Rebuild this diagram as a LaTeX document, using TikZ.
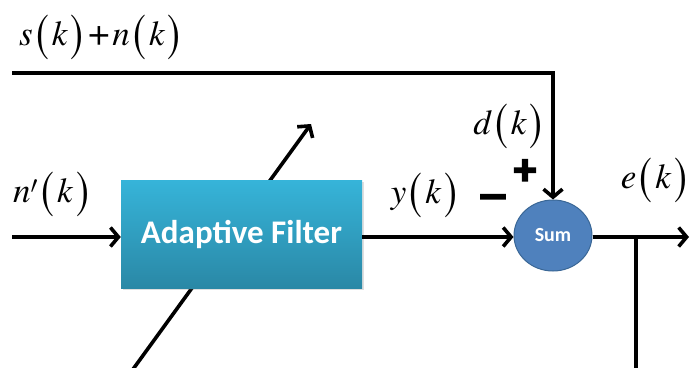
\documentclass[tikz,border=0pt]{standalone}
\usepackage{fontspec}
\usepackage{graphicx}
\newfontfamily\tms{TeX Gyre Termes}
\newfontfamily\calib{Carlito}
\newfontfamily\signfont[FakeBold=4]{Carlito}
\usetikzlibrary{arrows.meta,shapes.geometric,shadows}
\definecolor{boxtop}{HTML}{36B4D9}
\definecolor{boxbot}{HTML}{2A88A6}
\definecolor{sumfill}{HTML}{4F81BD}
\definecolor{sumline}{HTML}{3A6796}
\newcommand\LPa{\hspace{0.1em}\raisebox{-0.12em}{\scalebox{1.1}[1.5]{(}}\hspace{0.08em}}
\newcommand\RPa{\hspace{0.08em}\raisebox{-0.12em}{\scalebox{1.1}[1.5]{)}}\hspace{0.1em}}
\newcommand\PLa{\hspace{0.05em}\scalebox{1.1}{+}\hspace{0.05em}}
\tikzset{
  wire/.style={line width=3.6pt},
  arr/.style={wire,-{Straight Barb[length=8pt,width=19pt,line width=3.6pt]}},
  lbl/.style={font=\tms\fontsize{35}{40}\selectfont, inner sep=0pt},
  sign/.style={font=\signfont\bfseries\fontsize{44}{44}\selectfont, inner sep=0pt},
  filterbox/.style={draw=none, top color=boxtop, bottom color=boxbot,
    minimum width=241pt, minimum height=108pt, inner sep=0pt,
    font=\calib\bfseries\fontsize{33}{38}\selectfont, text=white,
    drop shadow={opacity=0.25, shadow xshift=1.5pt, shadow yshift=-1.5pt}},
  sumnode/.style={ellipse, draw=sumline, line width=1pt, fill=sumfill,
    minimum width=78pt, minimum height=71pt, inner sep=0pt,
    font=\calib\bfseries\fontsize{20}{22}\selectfont, text=white}
}
\begin{document}
\begin{tikzpicture}[x=1pt,y=-1pt]
\useasboundingbox (0,0) rectangle (691,367);
\clip (0,0) rectangle (691,367);
% coordinates
\coordinate (topstart) at (12,73);
\coordinate (inst) at (12,237);
\coordinate (yl) at (0,237);
\coordinate (outend) at (689,237);
\coordinate (branch) at (636,237);
\coordinate (branchend) at (636,372);
\coordinate (dstart) at (131,372);
\coordinate (dend) at (311,124);
% diagonal adaptation arrow (behind box)
\draw[arr] (dstart) -- (dend);
% nodes
\node[filterbox] (filt) at (241.5,234) {Adaptive Filter};
\node[sumnode] (sum) at (553,235.5) {Sum};
% connectors
\draw[arr] (topstart) -| (sum.north);
\draw[arr] (inst) -- (filt.west |- yl);
\draw[arr] (filt.east |- yl) -- (sum.west |- yl);
\draw[arr] (sum.east |- yl) -- (outend);
\draw[wire] (branch) -- (branchend);
% labels
\node[lbl] (lsn) at (100,37) {\textit{s}\LPa\textit{k}\RPa\PLa\textit{n}\LPa\textit{k}\RPa};
\node[lbl] (lnp) at (51,194) {\textit{n}$'$\LPa\textit{k}\RPa};
\node[lbl] (ly) at (424,195) {\textit{y}\LPa\textit{k}\RPa};
\node[lbl] (ld) at (508,126) {\textit{d}\LPa\textit{k}\RPa};
\node[lbl] (le) at (654,180) {\textit{e}\LPa\textit{k}\RPa};
\node[sign] (plus) at (525,172) {+};
\node[sign] (minus) at (493,202) {\scalebox{1.5}[1]{–}};
\end{tikzpicture}
\end{document}
